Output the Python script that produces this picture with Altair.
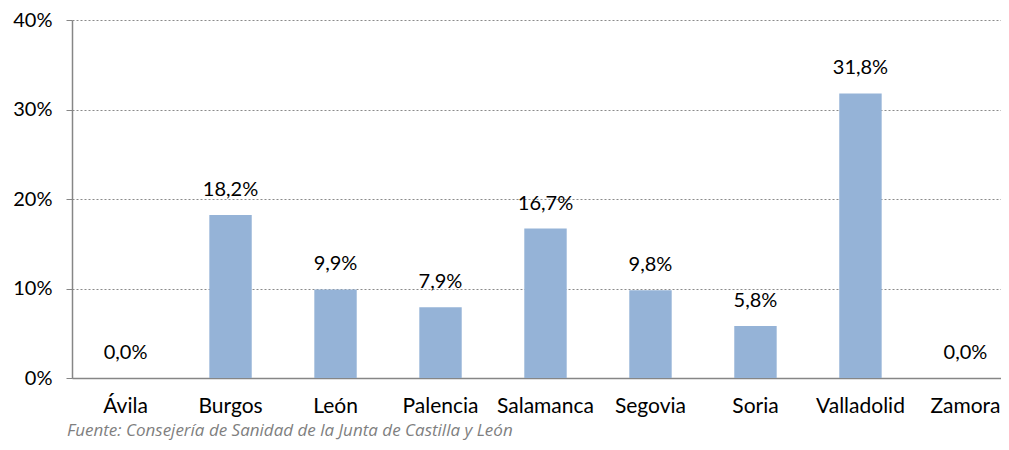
import altair as alt
import pandas as pd

provincias = ["Ávila", "Burgos", "León", "Palencia", "Salamanca", "Segovia", "Soria", "Valladolid", "Zamora"]
valores = [0.0, 18.2, 9.9, 7.9, 16.7, 9.8, 5.8, 31.8, 0.0]
etiquetas = ["0,0%", "18,2%", "9,9%", "7,9%", "16,7%", "9,8%", "5,8%", "31,8%", "0,0%"]
y_ticks = [0, 10, 20, 30, 40]
fuente = "Fuente: Consejería de Sanidad de la Junta de Castilla y León"

FONT = "Lato"
df = pd.DataFrame({"prov": provincias, "val": valores, "lab": etiquetas})

W, H = 929, 358
XRANGE = 947

x = alt.X("prov:N", sort=provincias, title=None,
          scale=alt.Scale(paddingInner=0.596, paddingOuter=0.308, range=[0, XRANGE]),
          axis=alt.Axis(labelAngle=0, labelFontSize=21, labelFont=FONT, labelColor="#000000",
                        ticks=False, domainColor="#868686", domainWidth=1.5, labelPadding=17))
y = alt.Y("val:Q", title=None,
          scale=alt.Scale(domain=[0, 40], nice=False),
          axis=alt.Axis(values=y_ticks, labelExpr="datum.value + '%'", labelFontSize=20,
                        labelFont=FONT, labelColor="#000000", tickSize=6, tickColor="#868686",
                        domainColor="#868686", domainWidth=1.5, labelPadding=14,
                        grid=True, gridColor="#8a8a8a", gridDash=[2, 2], gridWidth=1))

bars = alt.Chart(df).mark_bar(color="#95B3D7").encode(x=x, y=y)
texts = alt.Chart(df).mark_text(fontSize=20, font=FONT, color="#000000", baseline="middle", dy=-25).encode(
    x=alt.X("prov:N", sort=provincias), y="val:Q", text="lab:N")
src = alt.Chart(pd.DataFrame({"t": [fuente]})).mark_text(
    fontSize=17, font="Open Sans", fontStyle="italic", color="#7f7f7f", align="left", baseline="middle"
).encode(x=alt.value(-5), y=alt.value(H + 53), text="t:N")

chart = alt.layer(bars, texts, src).properties(
    width=W, height=H, autosize=alt.AutoSizeParams(type="none"),
    padding={"left": 64, "top": 12, "right": 0, "bottom": 64}
).configure_view(stroke=None).configure_axisX(grid=False)

chart.save("out.html", embed_options={"renderer": "svg", "actions": False})
